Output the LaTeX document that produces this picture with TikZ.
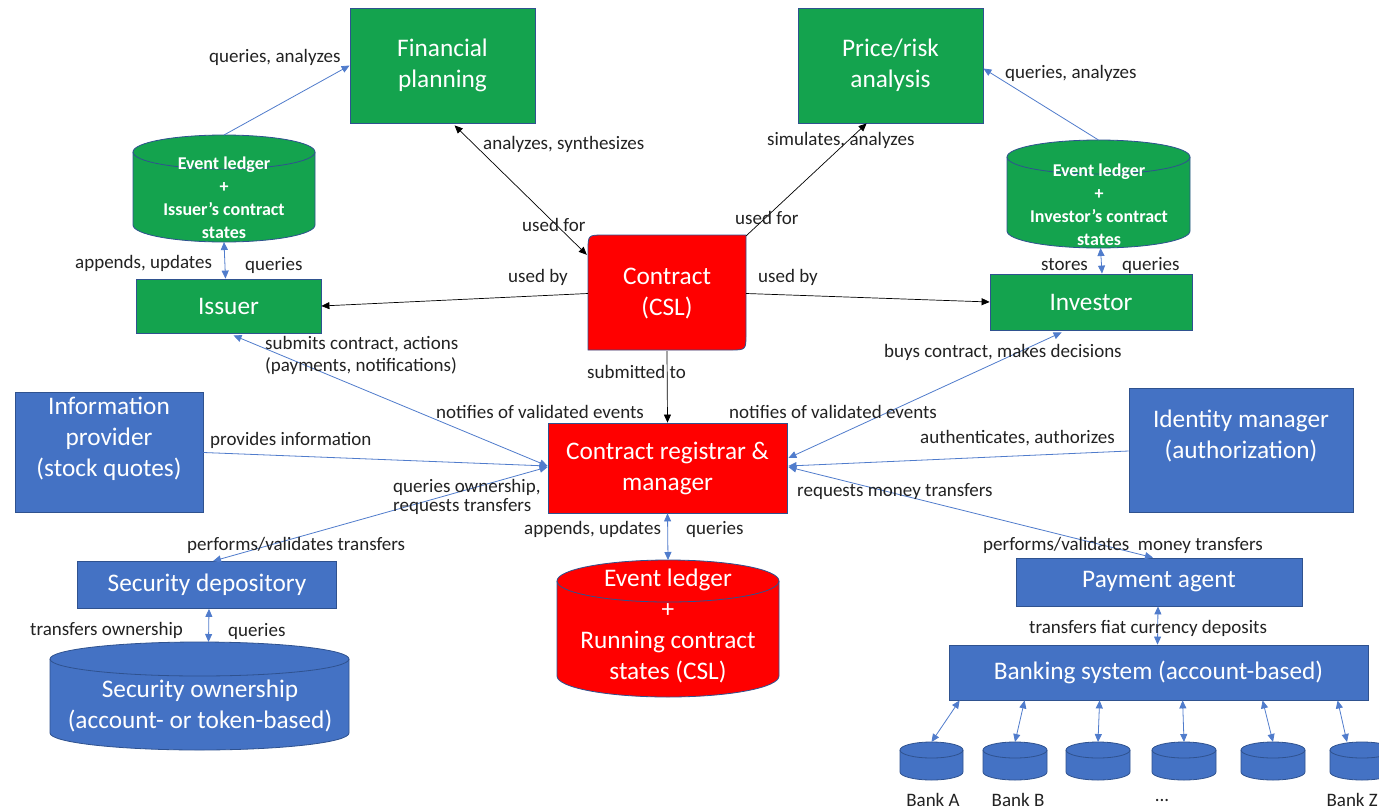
\documentclass[tikz,border=0pt]{standalone}
\usepackage{fontspec}
\setmainfont{Carlito}
\usetikzlibrary{arrows.meta,calc}

\definecolor{boxgreen}{RGB}{20,163,78}
\definecolor{boxblue}{RGB}{68,114,196}
\definecolor{boxred}{RGB}{255,0,0}
\definecolor{outline}{RGB}{47,82,143}
\definecolor{linkblue}{RGB}{80,124,204}
\definecolor{labelgray}{RGB}{34,34,34}

\tikzset{
  tip/.tip={Triangle[length=8pt,width=7pt]},
  bigfont/.style={font=\fontsize{25.3}{31}\selectfont},
  block/.style={draw=outline, line width=0.8pt, inner sep=0pt, text=white, bigfont, align=center},
  gbox/.style={block, fill=boxgreen},
  bbox/.style={block, fill=boxblue},
  rbox/.style={block, fill=boxred},
  boxtext/.style={inner sep=0pt, text=white, bigfont, align=center},
  ledtext/.style={inner sep=0pt, text=white, align=center, font=\bfseries\fontsize{18}{23}\selectfont},
  lbl/.style={inner sep=0pt, anchor=west, text=labelgray, font=\fontsize{19}{22}\selectfont},
  blink/.style={draw=linkblue, line width=0.8pt},
  klink/.style={draw=black, line width=0.7pt},
  drumline/.style={draw=outline, line width=0.8pt},
  hotspot/.style={inner sep=0pt, outer sep=0pt},
}

% cylinder: name, left x, top y, right x, bottom y, ellipse y radius, fill colour
\newcommand\drum[7]{%
  \pgfmathsetmacro\drumrx{(#4-#2)/2}%
  \pgfmathsetmacro\drumcx{(#4+#2)/2}%
  \fill[#7] (#2,#3+#6) -- (#2,#5-#6)
    arc[start angle=180,end angle=360,x radius=\drumrx pt,y radius=#6pt]
    -- (#4,#3+#6)
    arc[start angle=0,end angle=180,x radius=\drumrx pt,y radius=#6pt] -- cycle;
  \draw[drumline] (#2,#3+#6) -- (#2,#5-#6)
    arc[start angle=180,end angle=360,x radius=\drumrx pt,y radius=#6pt]
    -- (#4,#3+#6);
  \draw[drumline] (\drumcx,#3+#6) ellipse[x radius=\drumrx pt,y radius=#6pt];
  \node[hotspot, minimum width=(#4-#2)*1pt, minimum height=(#5-#3)*1pt]
    (#1) at (\drumcx,{(#3+#5)/2}) {};
}

\begin{document}
\begin{tikzpicture}[x=1pt,y=-1pt]
\useasboundingbox (0,0) rectangle (1379,809);
\clip (0,0) rectangle (1379,809);
\fill[white] (0,0) rectangle (1379,809);

% ---------- green: parties and analytics ----------
\node[gbox, minimum width=185pt, minimum height=115pt] (fin) at (442.5,65.5) {Financial\\planning};
\node[gbox, minimum width=185pt, minimum height=115pt] (risk) at (890.5,65.5) {Price/risk\\analysis};
\node[gbox, minimum width=185pt, minimum height=54pt] (iss) at (228.5,306) {Issuer};
\node[gbox, minimum width=202pt, minimum height=56pt] (inv) at (1091,302) {Investor};

\drum{ledI}{133}{135}{315}{242}{17}{boxgreen}
\node[ledtext] (ledItext) at (224,198) {Event ledger\\+\\Issuer’s contract\\states};
\drum{ledV}{1007}{140}{1190}{248}{17}{boxgreen}
\node[ledtext] (ledVtext) at (1099,204.5) {Event ledger\\+\\Investor’s contract\\states};

% ---------- red: contract and registrar ----------
\path[fill=boxred, draw=outline, line width=0.8pt]
  (588,350) -- (588,251) .. controls (588,235) .. (604,235) -- (746,235)
  -- (746,334) .. controls (746,350) .. (730,350) -- cycle;
\node[boxtext, minimum width=158pt, minimum height=115pt] (csl) at (667,293.5) {Contract\\(CSL)};

\node[rbox, minimum width=239pt, minimum height=90pt] (reg) at (667.5,468) {Contract registrar \&\\manager};

\drum{ledR}{557}{560}{779}{697}{21}{boxred}
\node[boxtext] (ledRtext) at (668,626) {Event ledger\\+\\Running contract\\states (CSL)};

% ---------- blue: infrastructure ----------
\node[bbox, minimum width=188pt, minimum height=120pt] (info) at (109,452.5) {};
\node[boxtext] (infotext) at (109,439) {Information\\provider\\(stock quotes)};
\node[bbox, minimum width=224pt, minimum height=124pt] (idm) at (1241,450) {};
\node[boxtext] (idmtext) at (1241,436) {Identity manager\\(authorization)};
\node[bbox, minimum width=259pt, minimum height=47pt] (sec) at (207,585) {Security depository};
\drum{own}{50}{642}{349}{750}{17}{boxblue}
\node[boxtext] (owntext) at (200,706) {Security ownership\\(account- or token-based)};
\node[bbox, minimum width=286pt, minimum height=48pt] (pay) at (1159,582) {Payment agent};
\node[bbox, minimum width=419pt, minimum height=55pt] (bank) at (1158.5,672.5) {Banking system (account-based)};

\drum{bA}{900}{742}{963}{780}{8}{boxblue}
\drum{bB}{983}{742}{1047}{780}{8}{boxblue}
\drum{bC}{1066}{742}{1130}{780}{8}{boxblue}
\drum{bD}{1152}{742}{1216}{780}{8}{boxblue}
\drum{bE}{1241}{742}{1305}{780}{8}{boxblue}
\drum{bF}{1330}{742}{1394}{780}{8}{boxblue}

\node[lbl, anchor=center] (lA) at (933,800) {Bank A};
\node[lbl, anchor=center] (lB) at (1018,800) {Bank B};
\node[lbl, anchor=center] (lC) at (1162,800) {...};
\node[lbl, anchor=east] (lZ) at (1378,800) {Bank Z};

% ---------- black connectors ----------
\draw[klink, tip-tip] ($(fin.south west)+(105,2)$) -- ($(csl.north west)+(-1,19)$);
\draw[klink, -tip] (csl.north east) -- ($(risk.south west)+(69,0)$);
\draw[klink, -tip] (csl.west) -- (iss.east);
\draw[klink, -tip] (csl.east) -- (inv.west);
\draw[klink, -tip] (csl.south) -- (reg.north);

% ---------- blue connectors ----------
\draw[blink, -tip] (ledI.north) -- (fin.west);
\draw[blink, -tip] (ledV.north) -- ($(risk.east)+(0,3)$);
\draw[blink, tip-tip] (ledI.south) -- ($(iss.north)+(-3,0)$);
\draw[blink, tip-tip] ($(ledV.south)+(2,0)$) -- ($(inv.north)+(11,0)$);

\draw[blink, tip-tip] ($(iss.south)+(5,2)$) -- ($(reg.west)+(0,-2)$);
\draw[blink, -tip] (info.east) -- ($(reg.west)+(0,-2)$);
\draw[blink, tip-tip] ($(reg.west)+(0,-1)$) -- ($(sec.north)+(6,0)$);
\draw[blink, tip-tip] ($(sec.south)+(2,0)$) -- ($(own.north)+(9,0)$);

\draw[blink, tip-tip] ($(inv.south west)+(72,2)$) -- ($(reg.east)+(1,-10)$);
\draw[blink, -tip] ($(idm.west)+(0,1)$) -- ($(reg.east)+(1,-2)$);
\draw[blink, tip-tip] ($(reg.east)+(1,-1)$) -- ($(pay.north)+(-6,0)$);
\draw[blink, tip-tip] (reg.south) -- (ledR.north);
\draw[blink, tip-tip] ($(pay.south)+(-1,0)$) -- ($(bank.north)+(-1,0)$);

\draw[blink, tip-tip] ($(bank.south west)+(11,0)$) -- (bA.north);
\draw[blink, tip-tip] ($(bank.south west)+(76,0)$) -- (bB.north);
\draw[blink, tip-tip] ($(bank.south west)+(151,0)$) -- (bC.north);
\draw[blink, tip-tip] ($(bank.south west)+(234,0)$) -- (bD.north);
\draw[blink, tip-tip] ($(bank.south west)+(314,0)$) -- (bE.north);
\draw[blink, tip-tip] ($(bank.south west)+(389,0)$) -- ($(bF.north)+(-15,0)$);

% ---------- connector labels ----------
\node[lbl] (t1) at (209,57) {queries, analyzes};
\node[lbl] (t2) at (483,144) {analyzes, synthesizes};
\node[lbl] (t3) at (522,225) {used for};
\node[lbl] (t4) at (767,140) {simulates, analyzes};
\node[lbl] (t5) at (735,218) {used for};
\node[lbl] (t6) at (1005,73) {queries, analyzes};
\node[lbl] (t7) at (75,263) {appends, updates};
\node[lbl] (t8) at (245,265) {queries};
\node[lbl] (t9) at (508,277) {used by};
\node[lbl] (t10) at (758,277) {used by};
\node[lbl] (t11) at (1041,265) {stores};
\node[lbl] (t12) at (1122,265) {queries};
\node[lbl] (t13) at (265,344) {submits contract, actions};
\node[lbl] (t14) at (265,366) {(payments, notifications)};
\node[lbl] (t15) at (587,372) {submitted to};
\node[lbl] (t16) at (884,352) {buys contract, makes decisions};
\node[lbl] (t17) at (436,412) {notifies of validated events};
\node[lbl] (t18) at (729,412) {notifies of validated events};
\node[lbl] (t19) at (210,440) {provides information};
\node[lbl] (t20) at (920,438) {authenticates, authorizes};
\node[lbl] (t21) at (393,487) {queries ownership,};
\node[lbl] (t22) at (393,507) {requests transfers};
\node[lbl] (t23) at (797,492) {requests money transfers};
\node[lbl] (t24) at (524,529) {appends, updates};
\node[lbl] (t25) at (686,529) {queries};
\node[lbl] (t26) at (187,545) {performs/validates transfers};
\node[lbl] (t27) at (983,545) {performs/validates\ \ money transfers};
\node[lbl] (t28) at (30,630) {transfers ownership};
\node[lbl] (t29) at (228,631) {queries};
\node[lbl] (t30) at (1029,628) {transfers fiat currency deposits};
\end{tikzpicture}
\end{document}
